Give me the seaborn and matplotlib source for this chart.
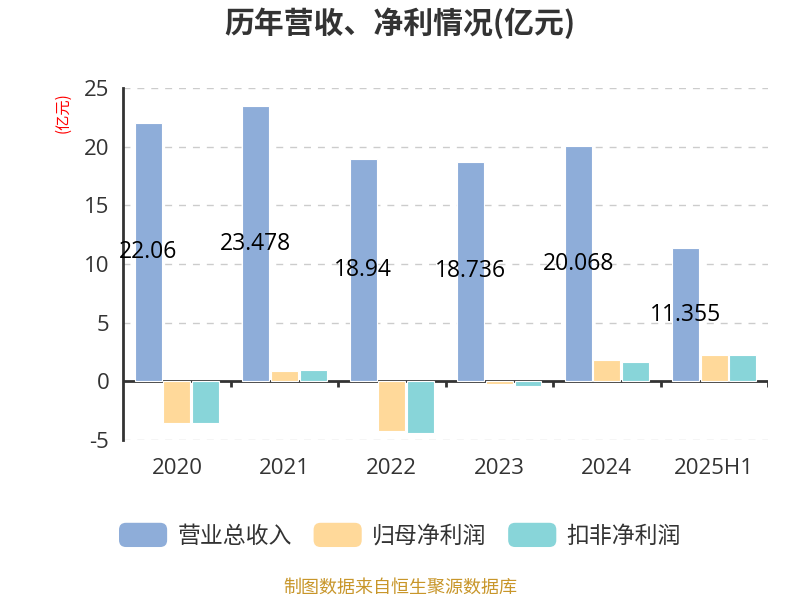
import pandas as pd
import matplotlib
matplotlib.use("Agg")
import matplotlib.pyplot as plt
from matplotlib.patches import FancyBboxPatch, Patch
from matplotlib.legend_handler import HandlerPatch
import seaborn as sns

years = ["2020", "2021", "2022", "2023", "2024", "2025H1"]
revenue = [22.06, 23.478, 18.94, 18.736, 20.068, 11.355]
net_profit = [-3.58, 0.88, -4.28, -0.25, 1.77, 2.22]
deducted_profit = [-3.60, 0.93, -4.40, -0.38, 1.65, 2.20]
series_names = ["营业总收入", "归母净利润", "扣非净利润"]
colors = ["#8EADD9", "#FFD99A", "#88D5D9"]

df = pd.DataFrame({
    "year": years * 3,
    "value": revenue + net_profit + deducted_profit,
    "series": [series_names[0]] * 6 + [series_names[1]] * 6 + [series_names[2]] * 6,
})

sns.set_theme(style="white")
plt.rcParams['font.family'] = ['Open Sans', 'Noto Sans CJK SC', 'DejaVu Sans']
plt.rcParams['axes.unicode_minus'] = False
cjk = ['Noto Sans CJK SC', 'DejaVu Sans']

fig = plt.figure(figsize=(8, 6), dpi=100)
ax = fig.add_axes([0.154, 0.267, 0.806, 0.586])

sns.barplot(data=df, x="year", y="value", hue="series", palette=colors,
            order=years, hue_order=series_names, width=0.8, gap=0.06,
            saturation=1, edgecolor="white", linewidth=0.8, legend=False, ax=ax)

ax.set_ylim(-5, 25)
ax.set_xlim(-0.5, len(years) - 0.5)
ax.set_yticks([-5, 0, 5, 10, 15, 20, 25])

# dashed grid
for yv in [-5, 5, 10, 15, 20, 25]:
    ax.axhline(yv, color="#CCCCCC", linestyle=(0, (5, 5)), linewidth=1, zorder=0)

# zero axis line with band ticks
ax.axhline(0, color="#333333", linewidth=2, zorder=0.5)
ax.vlines([i + 0.5 for i in range(len(years))], -0.5, 0, color="#333333",
          linewidth=2, zorder=0.5)

for s in ["top", "right", "bottom"]:
    ax.spines[s].set_visible(False)
ax.spines["left"].set_color("#333333")
ax.spines["left"].set_linewidth(2)
ax.tick_params(axis="y", direction="out", length=6, width=2, color="#333333",
               labelsize=16, labelcolor="#333333", pad=4)
ax.tick_params(axis="x", length=0, labelsize=16, labelcolor="#333333", pad=13)
ax.set_xlabel("")
ax.set_ylabel("")

# revenue labels at bar centre
ax.bar_label(ax.containers[0], labels=[str(v) for v in revenue],
             label_type="center", fontsize=16.5, color="black")

fig.text(0.5, 0.962, "历年营收、净利情况(亿元)", ha="center", va="center",
         fontsize=21.5, fontweight="bold", color="#333333", family=cjk)
fig.text(0.079, 0.812, "(亿元)", ha="center", va="center", rotation=90,
         fontsize=11, color="red", family=cjk)
fig.text(0.5, 0.02, "制图数据来自恒生聚源数据库", ha="center", va="center",
         fontsize=13, color="#C8962A", family=cjk)


class RoundHandler(HandlerPatch):
    def create_artists(self, legend, orig_handle, xdescent, ydescent,
                       width, height, fontsize, trans):
        p = FancyBboxPatch((-xdescent, -ydescent), width, height,
                           boxstyle="round,pad=0,rounding_size=5",
                           facecolor=orig_handle.get_facecolor(),
                           edgecolor="none", transform=trans)
        return [p]


handles = [Patch(facecolor=c, label=n) for c, n in zip(colors, series_names)]
fig.legend(handles=handles, loc="center", bbox_to_anchor=(0.5, 0.108),
           ncol=3, frameon=False, handlelength=2.1,
           handleheight=1.25, columnspacing=0.95, handletextpad=0.45,
           labelcolor="#333333", prop={'family': cjk, 'size': 16.5},
           handler_map={Patch: RoundHandler()})

fig.savefig("out.png", dpi=100)
